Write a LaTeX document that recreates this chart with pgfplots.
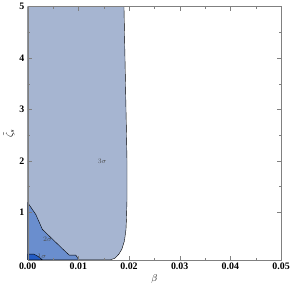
\documentclass[border=0pt]{standalone}
\usepackage{fontspec}
\setmainfont{Liberation Serif}
\usepackage{pgfplots}
\pgfplotsset{compat=1.18}
\definecolor{cthree}{RGB}{166,181,209}
\definecolor{ctwo}{RGB}{106,142,206}
\definecolor{cone}{RGB}{36,92,196}
\definecolor{frame}{RGB}{128,128,128}
\begin{document}
\begin{tikzpicture}
\begin{axis}[
  scale only axis, width=256pt, height=256pt,
  xmin=0, xmax=0.05, ymin=0.077, ymax=5,
  xtick={0,0.01,0.02,0.03,0.04,0.05},
  ytick={1,2,3,4,5},
  minor x tick num=1, minor y tick num=1,
  tick align=inside,
  major tick length=4pt, minor tick length=2pt,
  axis line style={frame},
  every tick/.style={frame},
  /pgf/number format/assume math mode=true,
  xticklabel style={font=\fontsize{10}{12}\selectfont\bfseries, /pgf/number format/.cd, fixed, fixed zerofill, precision=2},
  yticklabel style={font=\fontsize{10}{12}\selectfont\bfseries},
  scaled x ticks=false,
  xlabel={$\beta$}, ylabel={$\tilde{\zeta}_s$},
  label style={font=\fontsize{10}{12}\selectfont},
  xlabel style={yshift=2pt},
  ylabel style={yshift=-2pt},
  axis on top,
]
\addplot[fill=cthree, draw=black, thin] coordinates {
(0,0.077) (0,5) (0.0190,5) (0.0192,4) (0.0194,3) (0.0196,2) (0.0196,1.25) (0.0195,0.9) (0.0194,0.67) (0.0191,0.45) (0.0186,0.29) (0.0180,0.19) (0.0172,0.11) (0.0163,0.077)
} -- cycle;
\addplot[fill=ctwo, draw=black, thin] coordinates {
(0,0.077) (0,1.19) (0.0016,0.96) (0.0029,0.67) (0.0049,0.48) (0.0069,0.29) (0.0082,0.17) (0.0095,0.17) (0.0101,0.077)
} -- cycle;
\addplot[fill=cone, draw=black, thin] coordinates {
(0,0.077) (0,0.19) (0.0012,0.19) (0.0018,0.16) (0.0024,0.12) (0.0029,0.077)
} -- cycle;
\node[font=\fontsize{7}{8}\selectfont, text=black!70] at (axis cs:0.0147,2.0) {$3\sigma$};
\node[font=\fontsize{7}{8}\selectfont, text=black!70] at (axis cs:0.0039,0.48) {$2\sigma$};
\node[font=\fontsize{7}{8}\selectfont, text=black!70] at (axis cs:0.0028,0.14) {$1\sigma$};
\end{axis}
\end{tikzpicture}
\end{document}
